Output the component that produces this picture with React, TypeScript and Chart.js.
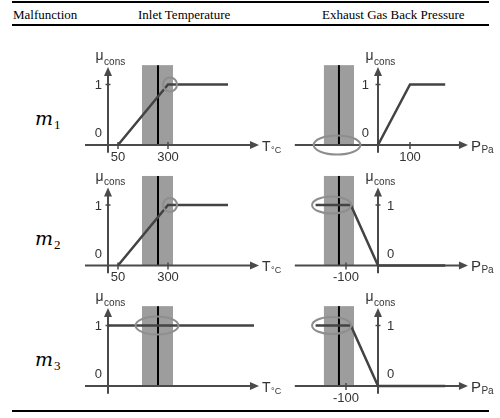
import React, { useEffect, useRef } from "react";
import { Chart, registerables } from "chart.js";

Chart.register(...registerables);

// ---------------- table text ----------------
const headers = ["Malfunction", "Inlet Temperature", "Exhaust Gas Back Pressure"];
const malfunctionIndex = ["1", "2", "3"];

// ---------------- inlet temperature panels (x: °C, y: μ_cons) ----------------
const tempLineX = [[50, 300, 600], [50, 300, 600], [0, 730]];
const tempLineY = [[0, 1, 1], [0, 1, 1], [1, 1]];
const tempBandLow = [170, 170, 170];
const tempBandHigh = [325, 325, 325];
const tempMeasured = [250, 250, 250];
const tempTickValues = [[50, 300], [50, 300], []];
const tempTickLabels = [["50", "300"], ["50", "300"], []];
const tempMarkX = [310, 310, 245];
const tempMarkY = [1, 1, 1];
const tempMarkHalfW = [35, 35, 107];
const tempMarkHalfH = [0.115, 0.115, 0.15];

// ---------------- exhaust gas back pressure panels (x: Pa, y: μ_cons) ----------------
const presLineX = [[0, 100, 210], [-195, -85, 0, 210], [-195, -85, 0, 210]];
const presLineY = [[0, 1, 1], [1, 1, 0, 0], [1, 1, 0, 0]];
const presBandLow = [-169, -169, -169];
const presBandHigh = [-75, -75, -75];
const presMeasured = [-122, -122, -122];
const presTickValues = [[100], [-100], [-100]];
const presTickLabels = [["100"], ["-100"], ["-100"]];
const presMarkX = [-128, -145, -145];
const presMarkY = [0, 1, 1];
const presMarkHalfW = [73, 61, 61];
const presMarkHalfH = [0.157, 0.14, 0.14];

// μ axis
const bandTopMu = [1.32, 1.48, 1.32];
const muTickValues = [0, 1];
const muTickLabels = ["0", "1"];

// ---------------- layout (pixels) ----------------
const AXIS_Y = [145, 265.5, 386];
const PX_PER_MU = 60.5;
const Y_MIN = -0.15;
const Y_MAX = 1.55;
const Y_ARROW = 1.29;
const Y_AXIS_BOTTOM = -0.13;
const TEMP_GEO = { originPx: 108, pxPerUnit: 0.2, min: -115, max: 755 };
const PRES_GEO = { originPx: 378, pxPerUnit: 0.32, min: -260, max: 281 };

const AXIS_COLOR = "#4a4a4a";
const LINE_COLOR = "#434343";
const BAND_COLOR = "#9d9d9d";
const MARK_COLOR = "#8e8e8e";
const TEXT_COLOR = "#333333";
const SANS = '"Liberation Sans", Arial, sans-serif';

type PanelSpec = {
  kind: "temp" | "pres";
  row: number;
  xs: number[];
  ys: number[];
  bandLow: number;
  bandHigh: number;
  measured: number;
  bandTop: number;
  tickValues: number[];
  tickLabels: string[];
  markX: number;
  markY: number;
  markHalfW: number;
  markHalfH: number;
  muLabelsRight: boolean;
  unitMain: string;
  unitSub: string;
};

function buildSpecs(): PanelSpec[] {
  const specs: PanelSpec[] = [];
  for (let r = 0; r < 3; r++) {
    specs.push({
      kind: "temp",
      row: r,
      xs: tempLineX[r],
      ys: tempLineY[r],
      bandLow: tempBandLow[r],
      bandHigh: tempBandHigh[r],
      measured: tempMeasured[r],
      bandTop: bandTopMu[r],
      tickValues: tempTickValues[r],
      tickLabels: tempTickLabels[r],
      markX: tempMarkX[r],
      markY: tempMarkY[r],
      markHalfW: tempMarkHalfW[r],
      markHalfH: tempMarkHalfH[r],
      muLabelsRight: false,
      unitMain: "T",
      unitSub: "°C",
    });
    specs.push({
      kind: "pres",
      row: r,
      xs: presLineX[r],
      ys: presLineY[r],
      bandLow: presBandLow[r],
      bandHigh: presBandHigh[r],
      measured: presMeasured[r],
      bandTop: bandTopMu[r],
      tickValues: presTickValues[r],
      tickLabels: presTickLabels[r],
      markX: presMarkX[r],
      markY: presMarkY[r],
      markHalfW: presMarkHalfW[r],
      markHalfH: presMarkHalfH[r],
      muLabelsRight: r > 0,
      unitMain: "P",
      unitSub: "Pa",
    });
  }
  return specs;
}

function makePlugin(p: PanelSpec) {
  return {
    id: "panel_" + p.kind + "_" + p.row,
    beforeDatasetsDraw(chart: any) {
      const { ctx, chartArea } = chart;
      const X = (v: number) => chart.scales.x.getPixelForValue(v);
      const Y = (v: number) => chart.scales.y.getPixelForValue(v);
      ctx.save();
      const base = Y(0);
      // measurement band
      const bl = X(p.bandLow);
      const br = X(p.bandHigh);
      const bt = Y(p.bandTop);
      ctx.fillStyle = BAND_COLOR;
      ctx.fillRect(bl, bt, br - bl, base - bt);
      // measured value
      ctx.strokeStyle = "#000";
      ctx.lineWidth = 2;
      ctx.beginPath();
      ctx.moveTo(X(p.measured), bt);
      ctx.lineTo(X(p.measured), base);
      ctx.stroke();
      // x axis with arrow
      ctx.strokeStyle = AXIS_COLOR;
      ctx.fillStyle = AXIS_COLOR;
      ctx.lineWidth = 2;
      const xEnd = chartArea.right;
      ctx.beginPath();
      ctx.moveTo(chartArea.left, base);
      ctx.lineTo(xEnd - 6, base);
      ctx.stroke();
      ctx.beginPath();
      ctx.moveTo(xEnd, base);
      ctx.lineTo(xEnd - 9, base - 4);
      ctx.lineTo(xEnd - 9, base + 4);
      ctx.closePath();
      ctx.fill();
      // y axis with arrow
      const ox = X(0);
      const tip = Y(Y_ARROW);
      ctx.beginPath();
      ctx.moveTo(ox, Y(Y_AXIS_BOTTOM));
      ctx.lineTo(ox, tip + 6);
      ctx.stroke();
      ctx.beginPath();
      ctx.moveTo(ox, tip);
      ctx.lineTo(ox - 4, tip + 9);
      ctx.lineTo(ox + 4, tip + 9);
      ctx.closePath();
      ctx.fill();
      // tick on μ = 1
      ctx.lineWidth = 1.5;
      ctx.beginPath();
      ctx.moveTo(ox - 2.5, Y(1));
      ctx.lineTo(ox + 2.5, Y(1));
      ctx.stroke();
      // x ticks
      p.tickValues.forEach((v) => {
        ctx.beginPath();
        ctx.moveTo(X(v), base - 3);
        ctx.lineTo(X(v), base + 4);
        ctx.stroke();
      });
      // labels
      ctx.fillStyle = TEXT_COLOR;
      ctx.textBaseline = "alphabetic";
      ctx.font = "13px " + SANS;
      ctx.textAlign = "center";
      p.tickValues.forEach((v, i) => {
        ctx.fillText(p.tickLabels[i], X(v), base + 15.5);
      });
      muTickValues.forEach((v, i) => {
        const yy = v === 0 ? base - 8 : Y(v) + 4.6;
        if (p.muLabelsRight) {
          ctx.textAlign = "left";
          ctx.fillText(muTickLabels[i], ox + 9, yy);
        } else {
          ctx.textAlign = "right";
          ctx.fillText(muTickLabels[i], ox - (p.kind === "pres" ? 9 : 6), yy);
        }
      });
      // μ_cons
      ctx.textAlign = "left";
      ctx.font = "14px " + SANS;
      const muX = ox - 12.5;
      ctx.fillText("μ", muX, tip - 6.5);
      const muW = ctx.measureText("μ").width;
      ctx.font = "10px " + SANS;
      ctx.fillText("cons", muX + muW + 0.5, tip - 2);
      // unit label
      const unitSize = p.kind === "temp" ? 14 : 15;
      ctx.font = unitSize + "px " + SANS;
      const ux = xEnd + 3;
      ctx.fillText(p.unitMain, ux, base + 5.5);
      const uw = ctx.measureText(p.unitMain).width;
      ctx.font = (p.kind === "temp" ? 9 : 10) + "px " + SANS;
      ctx.fillText(p.unitSub, ux + uw + 0.5, base + 7.5);
      ctx.restore();
    },
    afterDatasetsDraw(chart: any) {
      const { ctx } = chart;
      const X = (v: number) => chart.scales.x.getPixelForValue(v);
      const Y = (v: number) => chart.scales.y.getPixelForValue(v);
      const cx = X(p.markX);
      const cy = Y(p.markY);
      const rx = Math.abs(X(p.markX + p.markHalfW) - cx);
      const ry = Math.abs(Y(p.markY + p.markHalfH) - cy);
      ctx.save();
      ctx.strokeStyle = MARK_COLOR;
      ctx.lineWidth = 2;
      ctx.beginPath();
      ctx.ellipse(cx, cy, rx, ry, 0, 0, Math.PI * 2);
      ctx.stroke();
      ctx.restore();
    },
  };
}

function Panel({ spec }: { spec: PanelSpec }) {
  const ref = useRef<HTMLCanvasElement>(null);
  useEffect(() => {
    const geo = spec.kind === "temp" ? TEMP_GEO : PRES_GEO;
    const left = geo.originPx + geo.min * geo.pxPerUnit;
    const right = geo.originPx + geo.max * geo.pxPerUnit;
    const axisY = AXIS_Y[spec.row];
    const top = axisY - Y_MAX * PX_PER_MU;
    const bottom = axisY - Y_MIN * PX_PER_MU;
    const chart = new Chart(ref.current as HTMLCanvasElement, {
      type: "line",
      data: {
        datasets: [
          {
            data: spec.xs.map((x, i) => ({ x, y: spec.ys[i] })),
            borderColor: LINE_COLOR,
            borderWidth: 2.5,
            pointRadius: 0,
            tension: 0,
            fill: false,
          },
        ],
      },
      options: {
        responsive: false,
        animation: false,
        devicePixelRatio: 1,
        events: [],
        layout: {
          padding: { left, right: 500 - right, top, bottom: 418 - bottom },
        },
        scales: {
          x: { type: "linear", min: geo.min, max: geo.max, display: false },
          y: { type: "linear", min: Y_MIN, max: Y_MAX, display: false },
        },
        plugins: {
          legend: { display: false },
          tooltip: { enabled: false },
          title: { display: false },
        },
      },
      plugins: [makePlugin(spec)],
    } as any);
    return () => chart.destroy();
  }, [spec]);
  return (
    <canvas
      ref={ref}
      width={500}
      height={418}
      style={{ position: "absolute", left: 0, top: 0, width: 500, height: 418 }}
    />
  );
}

const specs = buildSpecs();
const headerLeft = [13, 138, 322];
const rowLabelBaseline = [125, 245.5, 366];

export default function App() {
  const serif = '"Liberation Serif", "Times New Roman", serif';
  return (
    <div
      style={{
        position: "absolute",
        left: 0,
        top: 0,
        width: 500,
        height: 418,
        background: "#fff",
        overflow: "hidden",
      }}
    >
      <div style={{ position: "absolute", left: 12, top: 1, width: 477, height: 2, background: "#000" }} />
      <div style={{ position: "absolute", left: 12, top: 24, width: 477, height: 1.6, background: "#000" }} />
      <div style={{ position: "absolute", left: 12, top: 410, width: 477, height: 2, background: "#000" }} />
      {headers.map((h, i) => (
        <div
          key={h}
          style={{
            position: "absolute",
            left: headerLeft[i],
            top: 18.5 - 10.9,
            font: "13px " + serif,
            lineHeight: "13px",
            color: "#000",
            whiteSpace: "nowrap",
          }}
        >
          {h}
        </div>
      ))}
      {malfunctionIndex.map((s, i) => (
        <div
          key={s}
          style={{
            position: "absolute",
            left: 35,
            top: rowLabelBaseline[i] - 16.07,
            font: 'italic 19px "DejaVu Serif", serif',
            lineHeight: "19px",
            color: "#000",
            whiteSpace: "nowrap",
          }}
        >
          m
          <span style={{ font: "13px " + serif, verticalAlign: "-4px", marginLeft: 1 }}>{s}</span>
        </div>
      ))}
      {specs.map((s) => (
        <Panel key={s.kind + s.row} spec={s} />
      ))}
    </div>
  );
}
